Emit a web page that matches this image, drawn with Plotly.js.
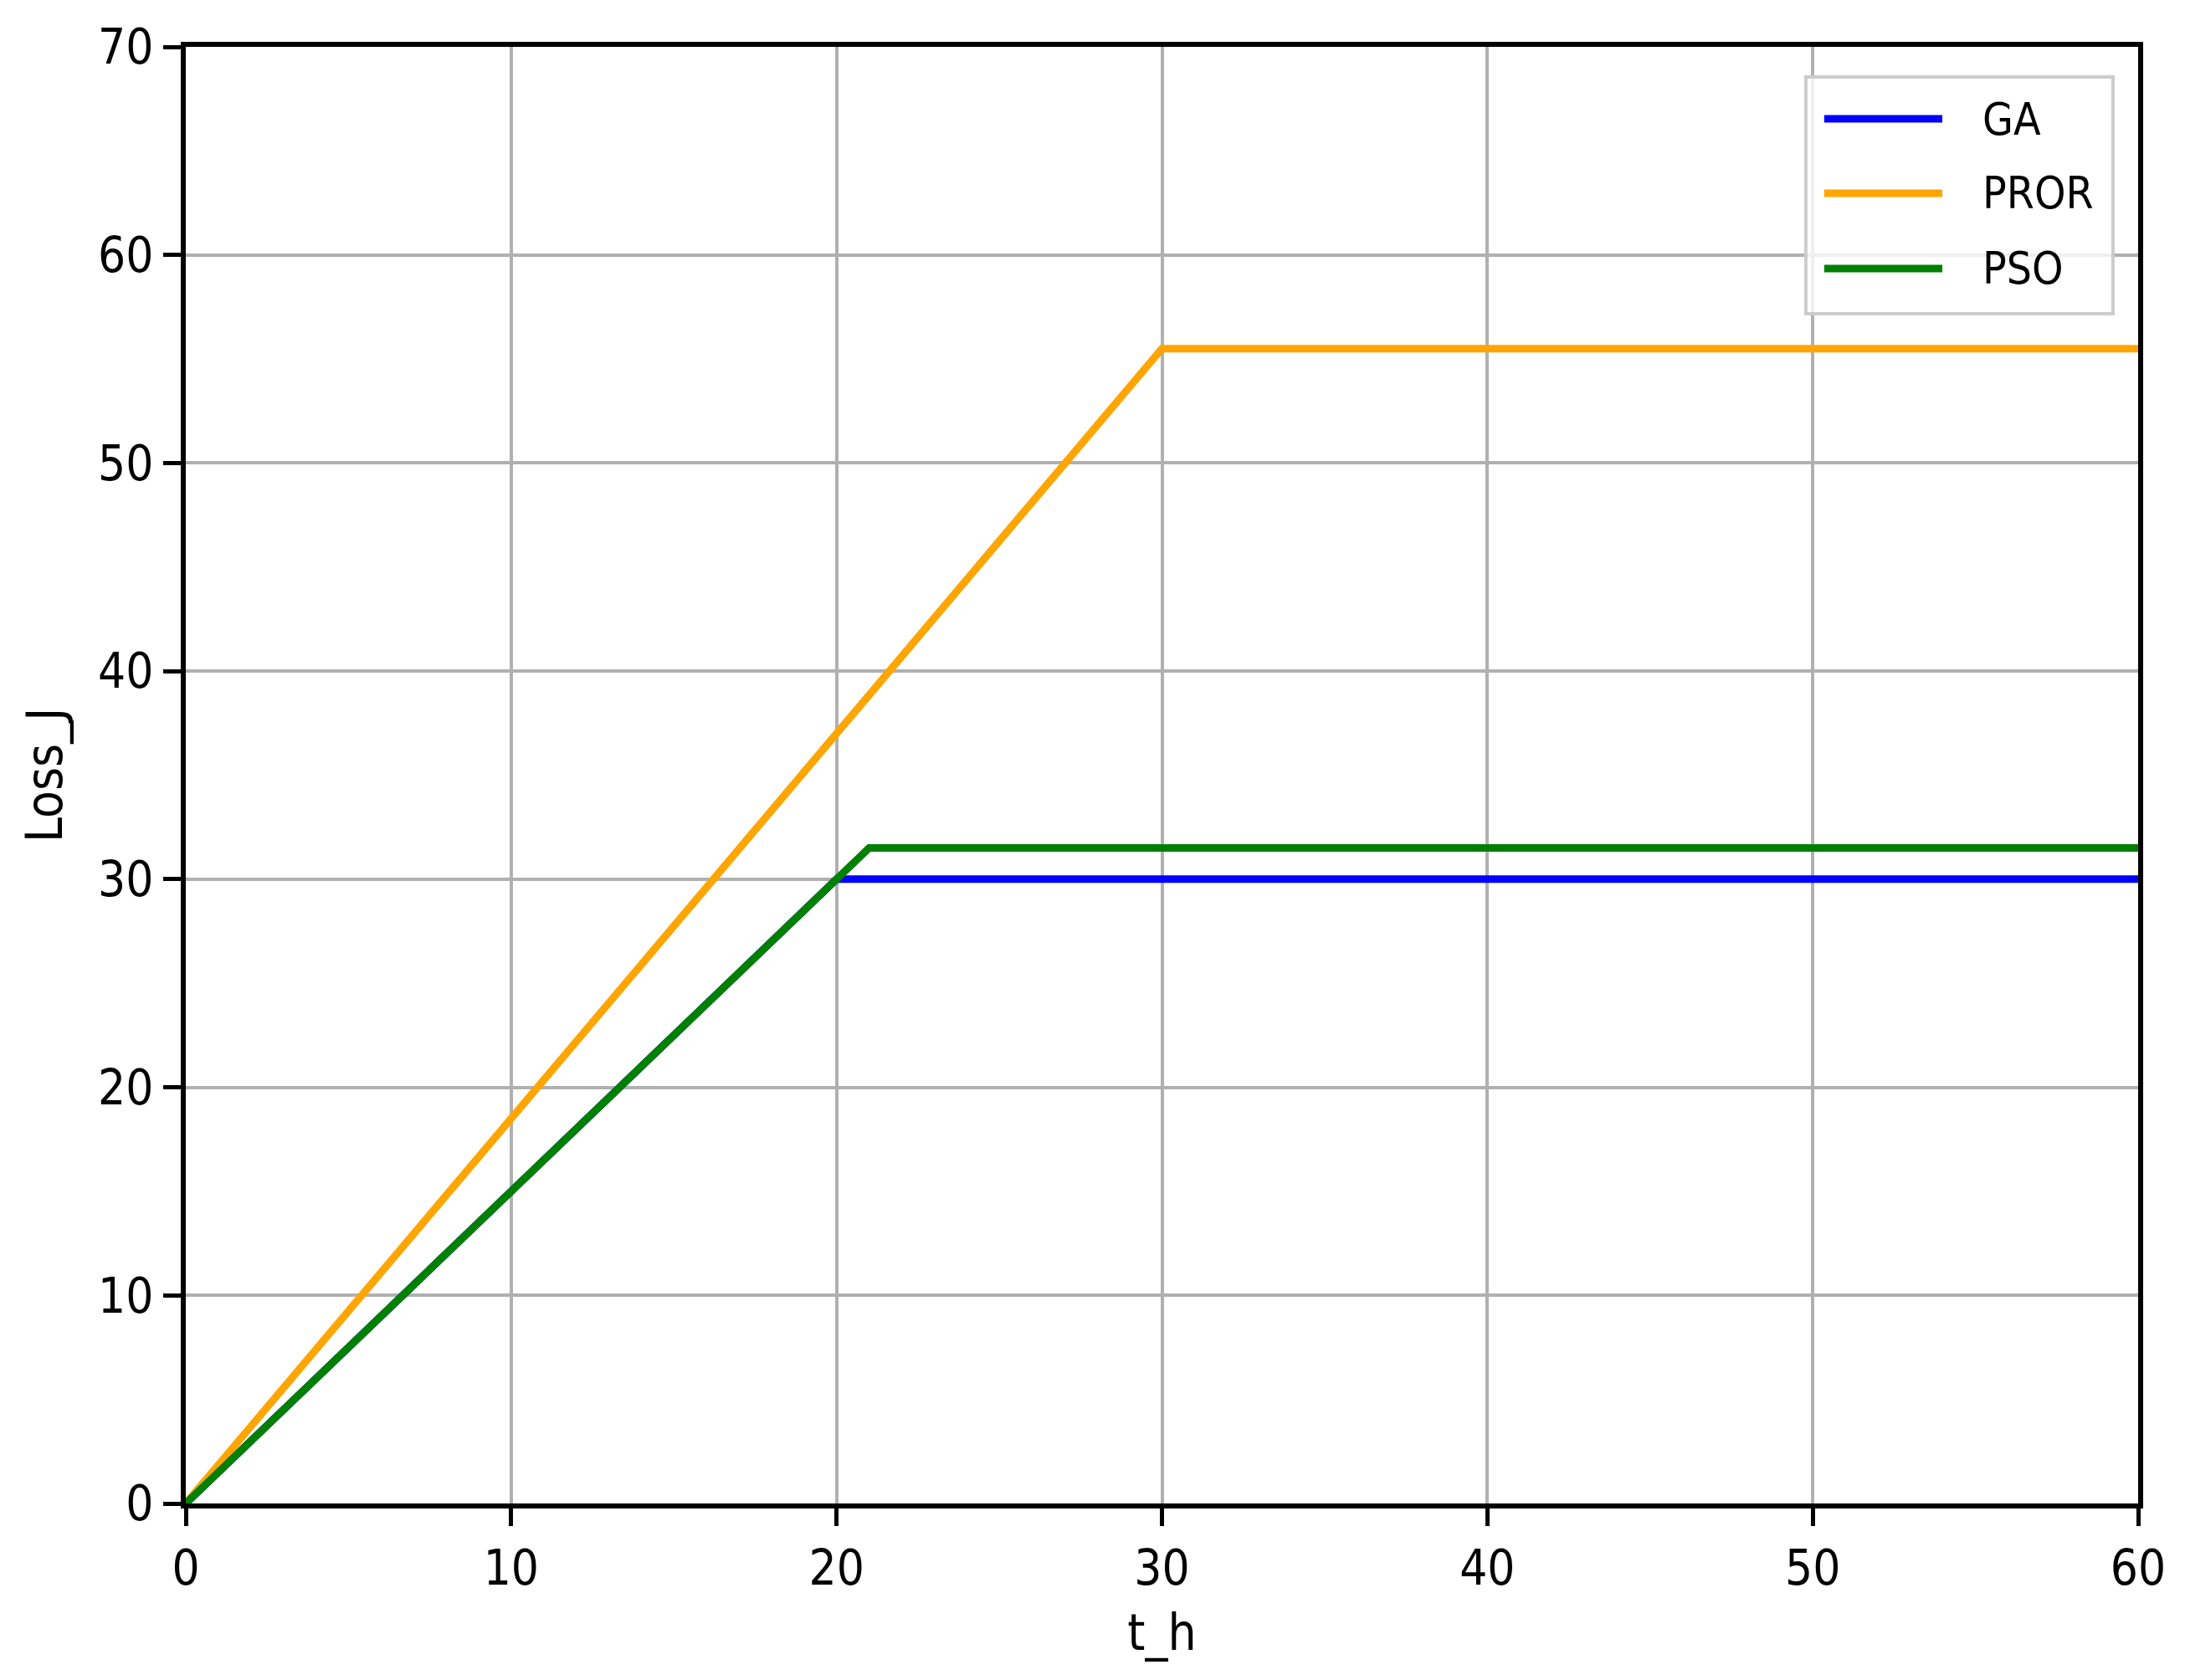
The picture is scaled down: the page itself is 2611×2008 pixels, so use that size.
<!DOCTYPE html>
<html>
<head>
<meta charset="utf-8">
<script src="https://cdn.plot.ly/plotly-3.0.1.min.js"></script>
<style>html,body{margin:0;padding:0;background:#fff;}#chart{width:2611px;height:2008px;}</style>
</head>
<body>
<div id="chart"></div>
<script>
// ---- data ----
const seriesNames = ["GA", "PROR", "PSO"];
const seriesColors = ["#0000ff", "#ffa500", "#008000"];
const tGA = [0, 20, 60];
const lossGA = [0, 30, 30];
const tPROR = [0, 30, 60];
const lossPROR = [0, 55.5, 55.5];
const tPSO = [0, 21, 60];
const lossPSO = [0, 31.5, 31.5];
const xTicks = [0, 10, 20, 30, 40, 50, 60];
const yTicks = [0, 10, 20, 30, 40, 50, 60, 70];
const xLabel = "t_h";
const yLabel = "Loss_J";

const FONT = "Liberation Sans Narrow, DejaVu Sans Condensed, Noto Sans, sans-serif";
const xs = [tGA, tPROR, tPSO];
const ys = [lossGA, lossPROR, lossPSO];

const traces = seriesNames.map((n, i) => ({
  x: xs[i], y: ys[i], name: n, type: "scatter", mode: "lines",
  line: {color: seriesColors[i], width: 9}, showlegend: false
}));

// custom legend (matplotlib style, long line handles)
const shapes = [{
  type: "rect", xref: "paper", yref: "paper", layer: "above",
  x0: 0.8298, x1: 0.9871, y0: 0.8168, y1: 0.9793,
  line: {color: "#cccccc", width: 4}, fillcolor: "rgba(255,255,255,0.8)"
}];
const annotations = [];
const rowY = [0.9506, 0.8995, 0.8478];
seriesNames.forEach((n, i) => {
  shapes.push({type: "line", xref: "paper", yref: "paper", layer: "above",
    x0: 0.8392, x1: 0.8997, y0: rowY[i], y1: rowY[i],
    line: {color: seriesColors[i], width: 9}});
  annotations.push({xref: "paper", yref: "paper", x: 0.9195, y: rowY[i],
    xanchor: "left", yanchor: "middle", showarrow: false, text: n,
    font: {family: FONT, size: 53, color: "#000"}});
});

const axisCommon = {
  showline: true, linecolor: "#000", linewidth: 6, mirror: true,
  ticks: "outside", ticklen: 21, tickwidth: 5, tickcolor: "#000",
  showgrid: true, gridcolor: "#b0b0b0", gridwidth: 4,
  zeroline: false, tickfont: {family: FONT, size: 58, color: "#000"}
};

const layout = {
  width: 2611, height: 2008,
  margin: {l: 222, r: 56, t: 56, b: 211},
  paper_bgcolor: "#fff", plot_bgcolor: "#fff",
  xaxis: Object.assign({}, axisCommon, {
    range: [0, 60], tickmode: "array", tickvals: xTicks,
    title: {text: xLabel, font: {family: FONT, size: 60, color: "#000"}, standoff: 25}
  }),
  yaxis: Object.assign({}, axisCommon, {
    range: [0, 70], tickmode: "array", tickvals: yTicks,
    title: {text: yLabel, font: {family: FONT, size: 60, color: "#000"}, standoff: 25}
  }),
  shapes: shapes, annotations: annotations, showlegend: false
};

Plotly.newPlot("chart", traces, layout, {displayModeBar: false, staticPlot: true});
</script>
</body>
</html>
